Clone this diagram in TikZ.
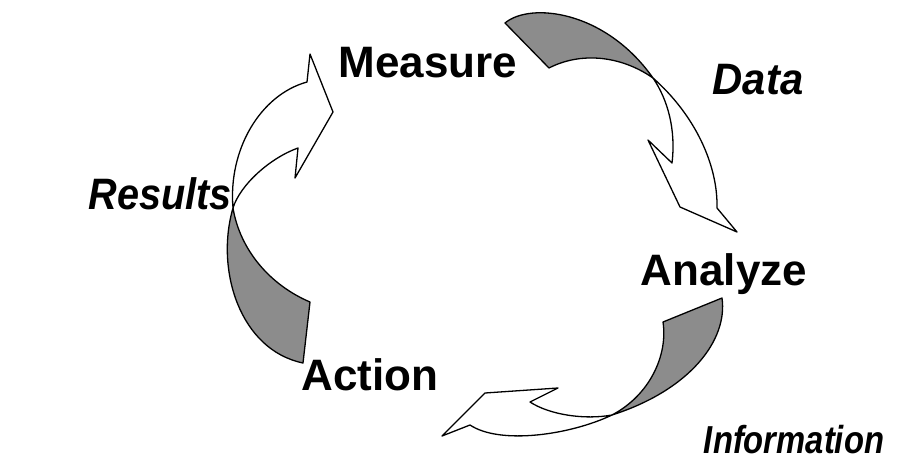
\documentclass[tikz,border=0pt]{standalone}
\usepackage{fontspec}
\setmainfont{Liberation Sans}
\begin{document}
\begin{tikzpicture}[x=1pt,y=-1pt,
  ribbon/.style={draw=black,line width=1.3pt,line join=round},
  shade/.style={ribbon,fill=black!45},
  blank/.style={ribbon,fill=white},
  lbl/.style={font=\fontsize{44}{44}\selectfont\bfseries,inner sep=0pt,anchor=base},
  ilbl/.style={font=\fontsize{44}{44}\selectfont\bfseries\itshape,inner sep=0pt,anchor=base}]
\useasboundingbox (0,0) rectangle (897,463);
% arrow 1: Measure -> Analyze
\path[blank] (653,78) .. controls (695,115) and (718,165) .. (717,208)
  -- (737,232) -- (680,207) -- (648,140) -- (672,163)
  .. controls (676,130) and (668,100) .. (653,78) -- cycle;
\path[shade] (505,23) .. controls (530,2) and (605,10) .. (653,78)
  .. controls (620,55) and (580,52) .. (549,68) -- cycle;
% arrow 2: Analyze -> Action
\path[blank] (612,415) .. controls (570,435) and (500,445) .. (470,425)
  -- (442,436) -- (485,393) -- (558,388) -- (530,402)
  .. controls (550,415) and (585,420) .. (612,415) -- cycle;
\path[shade] (722,298) .. controls (728,340) and (690,390) .. (612,415)
  .. controls (650,395) and (668,355) .. (663,322) -- cycle;
% arrow 3: Action -> Measure
\path[blank] (233,208) .. controls (228,150) and (260,95) .. (307,82)
  -- (310,54) -- (333,112) -- (295,178) -- (298,148)
  .. controls (270,158) and (240,185) .. (233,208) -- cycle;
\path[shade] (303,363) .. controls (240,350) and (215,270) .. (233,208)
  .. controls (240,250) and (270,285) .. (310,302) -- cycle;
% labels
\node[lbl] (measure) at (428,77) {Measure};
\node[ilbl,xscale=0.95] (data) at (758,94) {Data};
\node[lbl] (analyze) at (724,285) {Analyze};
\node[ilbl,xscale=0.9] (results) at (160,209) {Results};
\node[lbl] (action) at (370,390) {Action};
\node[ilbl,font=\fontsize{39}{39}\selectfont\bfseries\itshape,xscale=0.84] (information) at (794,453) {Information};
\end{tikzpicture}
\end{document}
